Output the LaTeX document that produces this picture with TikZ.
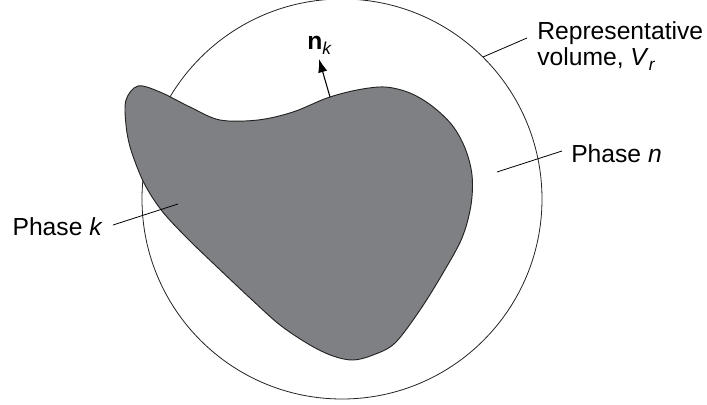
\documentclass[tikz,border=0pt]{standalone}
\usepackage{fontspec}
\setmainfont{Liberation Sans}
\usetikzlibrary{arrows.meta}

\newcommand{\lowsub}[1]{\raisebox{-0.45ex}{\fontsize{13}{14}\selectfont\mdseries\itshape #1}}

\begin{document}
\begin{tikzpicture}[x=0.75pt, y=-0.75pt,
  label text/.style={font=\fontsize{18.5}{19.5}\selectfont, inner sep=0pt, align=left},
  leader/.style={line width=0.6pt}]

% === Colors ===
\definecolor{phasefill}{RGB}{127,128,132}
\definecolor{edgeline}{RGB}{35,35,35}

\useasboundingbox (0,0) rectangle (707,404);

% === Representative volume (circle) ===
\coordinate (centre) at (342,199);
\draw[edgeline, line width=0.6pt] (centre) circle (200);

% === Phase k (gray blob) ===
\fill[phasefill, draw=edgeline, line width=0.7pt]
  plot[smooth cycle, tension=0.55] coordinates {
    (126,100) (138,86) (160,92) (190,107) (220,120)
    (258,120) (293,112) (327,98) (357,90) (385,87)
    (410,93) (432,106) (452,125) (465,148) (472,175)
    (471,205) (462,238) (443,273) (420,310) (395,343)
    (373,355) (353,360) (333,356) (310,345) (280,325)
    (250,298) (215,265) (187,238) (162,211) (144,183)
    (131,150) (126,125)
  };

% === Normal vector ===
\coordinate (nbase) at (330,97);
\node[label text, anchor=base west] (normal) at (307,49) {{\bfseries n}\lowsub{k}};
\coordinate (ntip) at (319,59);
\draw[-{Latex[length=10pt, width=7pt]}, line width=0.8pt] (nbase) -- (ntip);

% === Labels ===
\node[label text, anchor=base west] (repr) at (537,65)
  {Representative\\volume, \textit{V}\lowsub{r}};
\node[label text, anchor=base west] (phasen) at (571,162) {Phase \textit{n}};
\node[label text, anchor=base east] (phasek) at (103,235) {Phase \textit{k}};

% === Leader lines ===
\coordinate (vr a) at (483,57);
\coordinate (vr b) at (527,38);
\coordinate (pn a) at (497,172);
\coordinate (pn b) at (562,151);
\coordinate (pk a) at (113,225);
\coordinate (pk b) at (178,204);
\draw[leader] (vr a) -- (vr b);
\draw[leader] (pn a) -- (pn b);
\draw[leader] (pk a) -- (pk b);

\end{tikzpicture}
\end{document}
